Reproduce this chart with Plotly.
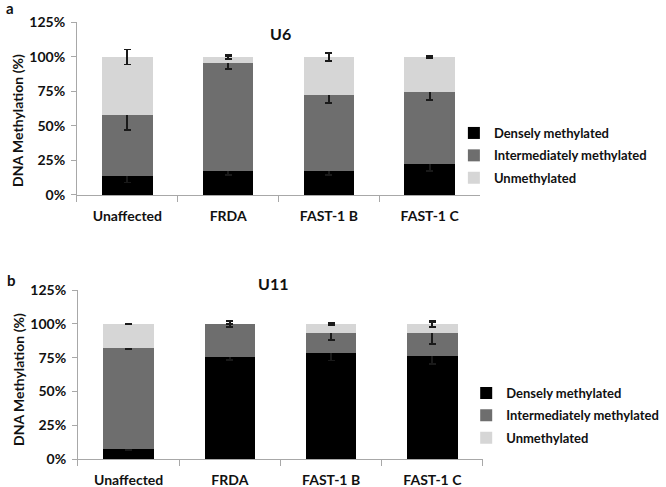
import plotly.graph_objects as go

categories = ["Unaffected", "FRDA", "FAST-1 B", "FAST-1 C"]
series_names = ["Densely methylated", "Intermediately methylated", "Unmethylated"]

# Panel a: U6
u6_dense = [14, 17.5, 17.5, 22.5]
u6_dense_err = [5, 3, 3, 5]
u6_inter = [44, 78.5, 55, 52]
u6_inter_err = [11, 4.5, 6, 5.5]
u6_unmeth = [42, 4, 27.5, 25.5]
u6_unmeth_err = [5.5, 1.5, 3, 1]

# Panel b: U11
u11_dense = [7.5, 75.5, 78.5, 76.5]
u11_dense_err = [0.4, 2, 5.5, 6]
u11_inter = [74.5, 24.5, 14.8, 16.8]
u11_inter_err = [0.4, 2.3, 5.4, 8]
u11_unmeth = [18, 0, 6.7, 6.7]
u11_unmeth_err = [0.3, 0, 0.7, 2.5]

y_ticks = [0, 25, 50, 75, 100, 125]
y_tick_labels = ["0%", "25%", "50%", "75%", "100%", "125%"]

colors = ["#000000", "#6e6e6e", "#d6d6d6"]
FONT = "Lato"
TXT = "#111111"

fig = go.Figure()

panels = [
    ("x", "y", "legend", [u6_dense, u6_inter, u6_unmeth], [u6_dense_err, u6_inter_err, u6_unmeth_err]),
    ("x2", "y2", "legend2", [u11_dense, u11_inter, u11_unmeth], [u11_dense_err, u11_inter_err, u11_unmeth_err]),
]
for xa, ya, lg, vals, errs in panels:
    for i, name in enumerate(series_names):
        fig.add_trace(go.Bar(
            x=categories, y=vals[i], name=name,
            marker=dict(color=colors[i], line=dict(width=0)),
            error_y=dict(type="data", array=errs[i], visible=True,
                         color="#1a1a1a", thickness=1.8, width=3.5),
            xaxis=xa, yaxis=ya, legend=lg, legendgroup=lg + str(i),
        ))

axis_line = "#a8a8a8"
xcommon = dict(showline=True, linecolor=axis_line, linewidth=1, ticks="outside",
               tickson="boundaries", ticklen=6, tickcolor=axis_line,
               showgrid=False, zeroline=False, automargin=False, ticklabelstandoff=8,
               tickfont=dict(family=FONT, size=14, color=TXT, weight="bold"))
ycommon = dict(showline=True, linecolor=axis_line, linewidth=1, ticks="outside",
               ticklen=5, tickcolor=axis_line, showgrid=False, zeroline=False,
               automargin=False, ticklabelstandoff=3,
               range=[0, 125], tickmode="array", tickvals=y_ticks, ticktext=y_tick_labels,
               tickfont=dict(family=FONT, size=14, color=TXT, weight="bold"))

legend_common = dict(font=dict(family=FONT, size=13, color=TXT, weight="bold"),
                     bgcolor="rgba(0,0,0,0)", traceorder="grouped", tracegroupgap=2.5,
                     xanchor="left", yanchor="middle")


def ann(text, px, py, size=14, angle=0):
    return dict(text=text, x=px / 666, y=1 - py / 487, xref="paper", yref="paper",
                xanchor="center", yanchor="middle", textangle=angle, showarrow=False,
                font=dict(family=FONT, size=size, color=TXT, weight="bold"))


fig.update_layout(
    template="none",
    width=666, height=487,
    margin=dict(l=0, r=0, t=0, b=0, pad=0, autoexpand=False),
    paper_bgcolor="white", plot_bgcolor="white",
    barmode="stack", bargap=0.5,
    xaxis=dict(domain=[0.1156, 0.7207], anchor="y", **xcommon),
    yaxis=dict(domain=[0.5996, 0.9538], anchor="x", **ycommon),
    xaxis2=dict(domain=[0.1171, 0.7252], anchor="y2", **xcommon),
    yaxis2=dict(domain=[0.0569, 0.4045], anchor="x2", **ycommon),
    legend=dict(x=0.6815, y=1 - 155.5 / 487, **legend_common),
    legend2=dict(x=0.700, y=1 - 415.5 / 487, **legend_common),
    showlegend=True,
    annotations=[
        ann("U6", 280, 33, 16),
        ann("U11", 273, 283, 16),
        ann("a", 10, 8, 15),
        ann("b", 11, 280, 15),
        ann("DNA Methylation (%)", 18, 121, 14, -90),
        ann("DNA Methylation (%)", 18, 380, 14, -90),
    ],
)

fig.write_html("out.html",
               config={"displayModeBar": False},
               post_script="document.body.style.margin='0';document.body.style.overflow='hidden';")
